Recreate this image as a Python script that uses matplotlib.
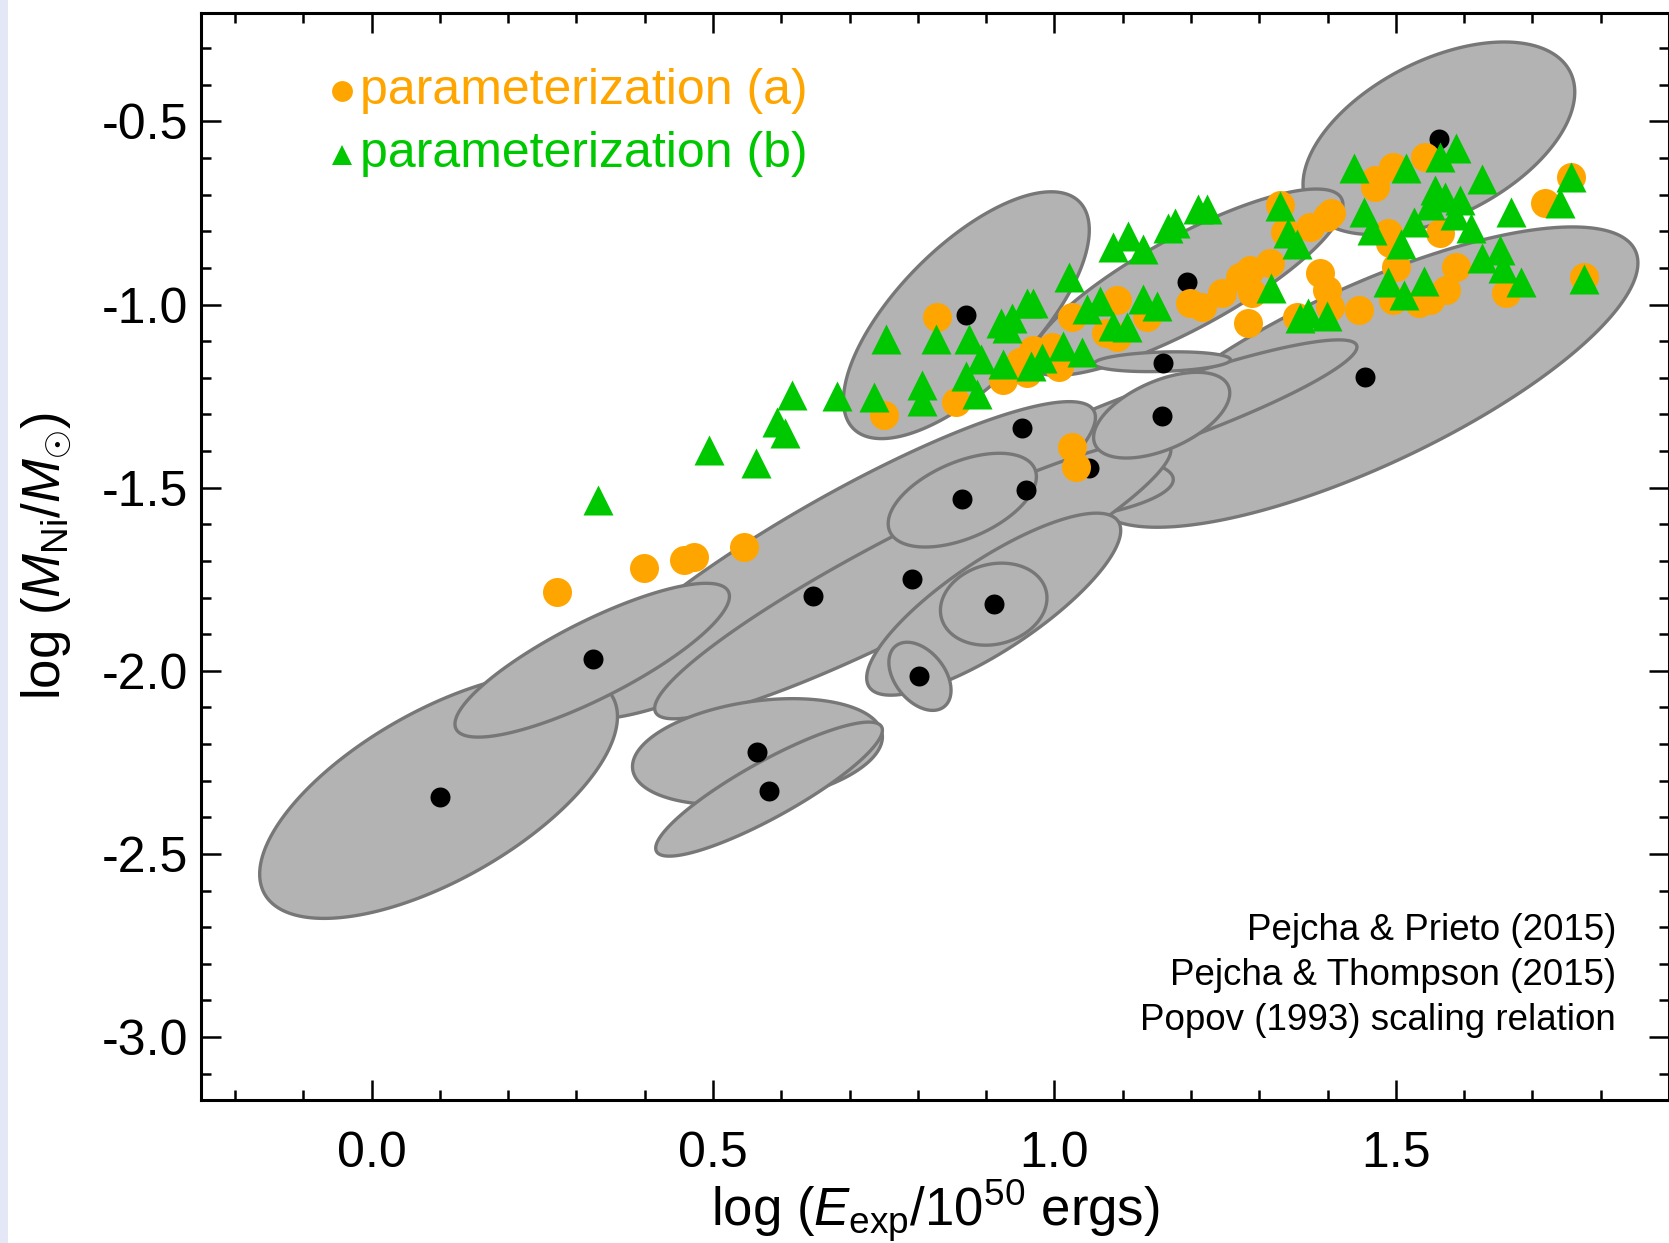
import numpy as np
import matplotlib
matplotlib.use("Agg")
import matplotlib.pyplot as plt
from matplotlib.patches import Rectangle

plt.rcParams['font.family'] = ['Liberation Sans', 'DejaVu Sans']
plt.rcParams['mathtext.fontset'] = 'custom'
plt.rcParams['mathtext.rm'] = 'Liberation Sans'
plt.rcParams['mathtext.it'] = 'Liberation Sans:italic'
plt.rcParams['axes.unicode_minus'] = False

# observed supernovae (black points)
sn_log_e = [0.100, 0.324, 0.565, 0.582, 0.647, 0.792, 0.802, 0.911, 0.865,
            0.959, 0.952, 0.870, 1.050, 1.157, 1.159, 1.194, 1.455, 1.563]
sn_log_ni = [-2.344, -1.968, -2.221, -2.329, -1.796, -1.750, -2.015, -1.817, -1.531,
             -1.506, -1.338, -1.029, -1.445, -1.303, -1.159, -0.939, -1.198, -0.548]

# error ellipses: centre, sigma in x, sigma in y, correlation (in drawing order)
ell_x = [1.563, 1.4545, 1.1935, 1.157, 0.959, 0.677, 0.7925, 0.911, 0.098,
         0.323, 0.565, 0.582, 0.865, 1.157, 1.158, 0.911, 0.803, 0.871]
ell_y = [-0.546, -1.198, -0.939, -1.302, -1.507, -1.698, -1.750, -1.818, -2.340,
         -1.971, -2.221, -2.323, -1.534, -1.302, -1.156, -1.818, -2.015, -1.029]
ell_sx = [0.199, 0.400, 0.229, 0.286, 0.215, 0.383, 0.378, 0.186, 0.262,
          0.201, 0.183, 0.166, 0.1085, 0.0997, 0.0997, 0.078, 0.0455, 0.180]
ell_sy = [0.263, 0.410, 0.2545, 0.2056, 0.098, 0.433, 0.381, 0.2485, 0.336,
          0.210, 0.145, 0.183, 0.128, 0.117, 0.027, 0.112, 0.093, 0.337]
ell_rho = [0.48, 0.76, 0.83, 0.906, 0.30, 0.90, 0.925, 0.81, 0.64,
           0.83, 0.28, 0.88, 0.50, 0.52, 0.20, 0.15, -0.41, 0.69]

# parameterization (a)
par_a_x = [0.272, 0.399, 0.457, 0.472, 0.545, 0.751, 0.828, 0.856, 0.924, 0.960,
           0.949, 0.968, 0.997, 1.007, 1.026, 1.091, 1.076, 1.092, 1.136, 1.198,
           1.216, 1.246, 1.271, 1.286, 1.315, 1.290, 1.283, 1.330, 1.337, 1.374,
           1.399, 1.389, 1.399, 1.355, 1.025, 1.032, 1.543, 1.496, 1.469, 1.469,
           1.757, 1.718, 1.565, 1.488, 1.500, 1.588, 1.573, 1.661, 1.776, 1.534,
           1.496, 1.405, 1.446, 1.403, 1.491, 1.550]
par_a_y = [-1.785, -1.720, -1.698, -1.690, -1.662, -1.302, -1.034, -1.267, -1.206, -1.187,
           -1.157, -1.125, -1.116, -1.171, -1.034, -0.988, -1.078, -1.089, -1.034, -0.996,
           -1.007, -0.969, -0.925, -0.906, -0.887, -0.969, -1.051, -0.729, -0.802, -0.789,
           -0.761, -0.914, -0.961, -1.034, -1.389, -1.444, -0.597, -0.625, -0.660, -0.679,
           -0.652, -0.723, -0.805, -0.805, -0.898, -0.898, -0.961, -0.969, -0.925, -0.996,
           -0.988, -0.750, -1.015, -1.007, -0.832, -0.988]

# parameterization (b)
par_b_x = [0.331, 0.494, 0.5625, 0.594, 0.606, 0.616, 0.682, 0.736, 0.754, 0.806,
           0.806, 0.826, 0.875, 0.893, 0.871, 0.886, 0.922, 0.938, 0.960, 0.968,
           0.924, 0.966, 0.982, 1.012, 1.022, 1.041, 1.047, 1.066, 1.085, 1.106,
           1.129, 1.150, 1.085, 1.107, 1.129, 1.166, 1.176, 1.210, 1.224, 1.317,
           1.330, 1.342, 1.355, 1.359, 1.371, 1.399, 1.438, 1.515, 1.588, 1.565,
           1.626, 1.572, 1.669, 1.757, 1.740, 1.453, 1.465, 1.526, 1.610, 1.652,
           1.507, 1.488, 1.512, 1.541, 1.626, 1.657, 1.683, 1.776, 1.557, 1.594,
           1.587, 1.550, 0.930]
par_b_y = [-1.534, -1.398, -1.433, -1.321, -1.351, -1.247, -1.250, -1.253, -1.094, -1.220,
           -1.264, -1.094, -1.094, -1.149, -1.195, -1.245, -1.051, -1.037, -0.996, -0.996,
           -1.163, -1.168, -1.146, -1.114, -0.925, -1.130, -1.013, -0.991, -1.059, -1.062,
           -0.985, -1.004, -0.843, -0.813, -0.849, -0.791, -0.778, -0.740, -0.740, -0.955,
           -0.731, -0.805, -0.835, -1.037, -1.024, -1.032, -0.628, -0.628, -0.573, -0.598,
           -0.658, -0.707, -0.748, -0.652, -0.723, -0.748, -0.797, -0.775, -0.791, -0.851,
           -0.835, -0.939, -0.974, -0.936, -0.873, -0.901, -0.939, -0.931, -0.688, -0.715,
           -0.756, -0.729, -1.064]

orange = '#ffa500'
green = '#00c800'


def ellipse_outline(cx, cy, sx, sy, rho, n=240):
    """
    Contour of a correlated error ellipse.
    """
    t = np.linspace(0, 2 * np.pi, n)
    x = cx + sx * np.cos(t)
    y = cy + sy * (rho * np.cos(t) + np.sqrt(1 - rho ** 2) * np.sin(t))
    return x, y


fig = plt.figure(figsize=(16.69, 12.43), dpi=100)
fig.patches.append(Rectangle((0, 0), 0.005, 1, transform=fig.transFigure,
                             facecolor='#e4e8f6', edgecolor='none'))
ax = fig.add_axes([0.1204, 0.1150, 0.8796, 0.8745])

for cx, cy, sx, sy, rho in zip(ell_x, ell_y, ell_sx, ell_sy, ell_rho):
    ex, ey = ellipse_outline(cx, cy, sx, sy, rho)
    ax.fill(ex, ey, facecolor='#b3b3b3', edgecolor='#777777', lw=2.4, zorder=2)

ax.scatter(sn_log_e, sn_log_ni, s=207, c='black', linewidths=0, zorder=3)
ax.scatter(par_a_x, par_a_y, s=436, c=orange, linewidths=0, zorder=4)
ax.scatter(par_b_x, par_b_y, s=467, c=green, marker='^', linewidths=0, zorder=5)

# legend drawn by hand
ax.plot([0.0958], [0.9287], 'o', ms=15, color=orange, mew=0, transform=ax.transAxes)
ax.plot([0.0958], [0.8690], '^', ms=14.5, color=green, mew=0, transform=ax.transAxes)
ax.text(0.1083, 0.9287, 'parameterization (a)', color=orange, fontsize=36,
        va='center', transform=ax.transAxes)
ax.text(0.1083, 0.8703, 'parameterization (b)', color=green, fontsize=36,
        va='center', transform=ax.transAxes)

notes = ['Pejcha & Prieto (2015)', 'Pejcha & Thompson (2015)',
         'Popov (1993) scaling relation']
for i, note in enumerate(notes):
    ax.text(0.9639, 0.1564 - i * 0.0414, note, fontsize=26.5, ha='right',
            va='center', transform=ax.transAxes)

ax.set_xlim(-0.25, 1.9)
ax.set_ylim(-3.172, -0.204)
ax.set_xticks([0.0, 0.5, 1.0, 1.5])
ax.set_xticklabels(['0.0', '0.5', '1.0', '1.5'])
ax.set_yticks([-3.0, -2.5, -2.0, -1.5, -1.0, -0.5])
ax.set_yticklabels(['-3.0', '-2.5', '-2.0', '-1.5', '-1.0', '-0.5'])
ax.set_xticks(np.arange(-0.2, 1.85, 0.1), minor=True)
ax.set_yticks(np.arange(-3.1, -0.25, 0.1), minor=True)
ax.tick_params(which='both', direction='in', top=True, right=True, width=1.8)
ax.tick_params(which='major', length=14.5, labelsize=36)
ax.tick_params(which='minor', length=7.5)
ax.tick_params(axis='x', pad=22)
ax.tick_params(axis='y', pad=9)
for sp in ax.spines.values():
    sp.set_linewidth(2.2)

ax.set_xlabel(r'log ($E_{\rm exp}$/10$^{50}$ ergs)', fontsize=38, labelpad=0)
ax.set_ylabel(r'log ($M_{\rm Ni}$/$M_{\odot}$)', fontsize=38, labelpad=20)

fig.savefig('out.png', dpi=100)
